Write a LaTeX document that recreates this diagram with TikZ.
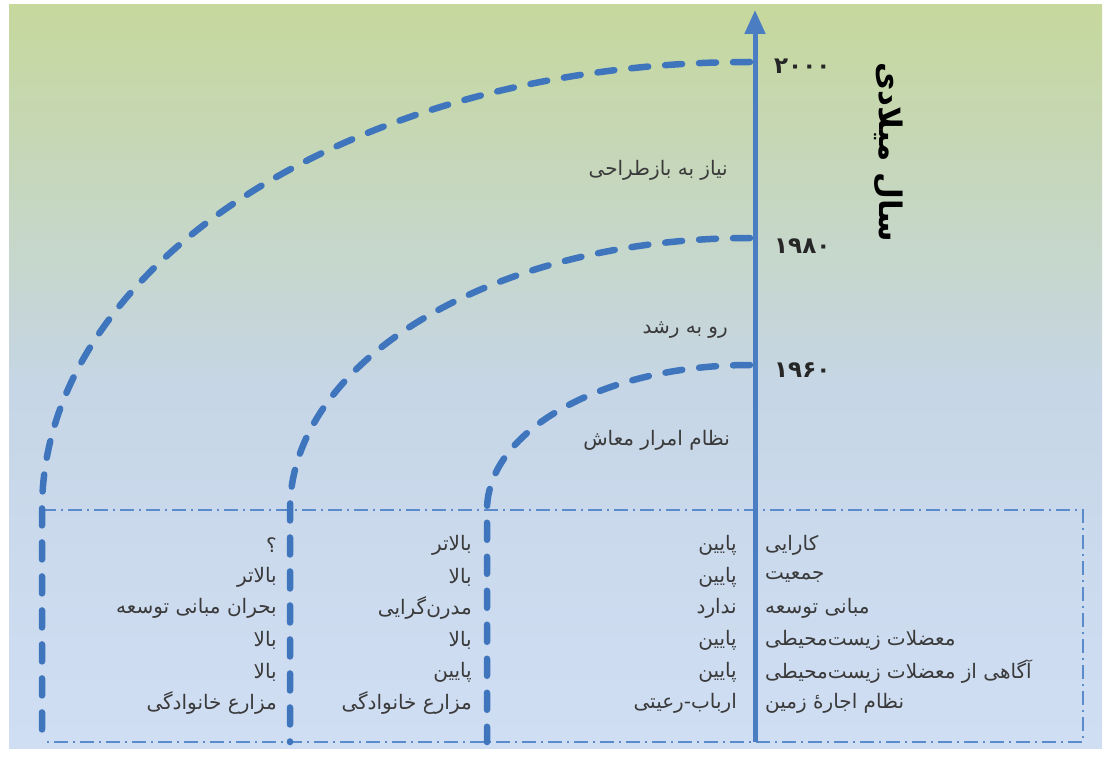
\documentclass[tikz,border=0pt]{standalone}
\usepackage{fontspec}
\usetikzlibrary{arrows.meta}
\newfontfamily\arabicfont[Script=Arabic]{DejaVu Sans}
\TeXXeTstate=1
\definecolor{axisblue}{HTML}{4A7DC2}
\definecolor{arcblue}{HTML}{3F75BD}
\definecolor{gridblue}{HTML}{5A8BCB}
\definecolor{txtgray}{HTML}{3A3A3A}
\definecolor{bgtop}{HTML}{C6D89C}
\definecolor{bgmid}{HTML}{C6D6E6}
\definecolor{bgbot}{HTML}{D0DEF4}
\tikzset{
  arcline/.style={draw=arcblue, line width=6.5pt, line cap=round, dash pattern=on 17pt off 17pt},
  gridline/.style={draw=gridblue, line width=1.3pt, dash pattern=on 14pt off 5pt on 2pt off 5pt},
  axisline/.style={draw=axisblue, line width=5pt, -{Triangle[length=24pt,width=20pt]}},
  cell/.style={inner sep=0pt, text=txtgray, font=\arabicfont\fontsize{20}{22}\selectfont},
  phase/.style={inner sep=0pt, anchor=east, text=txtgray, font=\arabicfont\fontsize{20}{22}\selectfont},
  year/.style={inner sep=0pt, anchor=west, text=black!85, font=\arabicfont\bfseries\fontsize{23}{25}\selectfont},
}
\begin{document}
\begin{tikzpicture}[x=1pt,y=-1pt]
			\useasboundingbox (0,0) rectangle (1110,762);
			\fill [top color=bgtop, bottom color=bgmid] (9,5) rectangle (1102,390);
			\fill [top color=bgmid, bottom color=bgbot] (9,389) rectangle (1102,748);
			\coordinate (tl) at (42,510);
			\coordinate (tr) at (1083,510);
			\coordinate (br) at (1083,742);
			\coordinate (bl) at (42,742);
			\draw [gridline] (tl) -- (tr) -- (br) -- (bl);
			\coordinate (t2000) at (750,62);
			\coordinate (t1980) at (750,238);
			\coordinate (t1960) at (750,365);
			\coordinate (b2000) at (42,742);
			\coordinate (b1980) at (290,742);
			\coordinate (b1960) at (487,742);
			\draw [arcline] (t2000) arc [start angle=-90, end angle=-180, x radius=708, y radius=448] -- (b2000);
			\draw [arcline] (t1980) arc [start angle=-90, end angle=-180, x radius=460, y radius=272] -- (b1980);
			\draw [arcline] (t1960) arc [start angle=-90, end angle=-180, x radius=263, y radius=145] -- (b1960);
			\coordinate (axbot) at (755,742);
			\coordinate (axtop) at (755,10);
			\draw [axisline] (axbot) -- (axtop);
			\node [year] (y2000) at (774,66) {۲۰۰۰};
			\node [year] (y1980) at (774,246) {۱۹۸۰};
			\node [year] (y1960) at (774,370) {۱۹۶۰};
			\node [rotate=-90, inner sep=0pt, font=\arabicfont\bfseries\fontsize{31}{33}\selectfont] (title) at (888,152) {\beginR سال میلادی\endR};
			\node [phase] (p3) at (728,170) {\beginR نیاز به بازطراحی\endR};
			\node [phase] (p2) at (728,330) {\beginR رو به رشد\endR};
			\node [phase] (p1) at (730,440) {\beginR نظام امرار معاش\endR};
			\node [cell, anchor=west] (h1) at (765,545) {\beginR کارایی\endR};
			\node [cell, anchor=west] (h2) at (765,577) {\beginR جمعیت\endR};
			\node [cell, anchor=west] (h3) at (765,608) {\beginR مبانی توسعه\endR};
			\node [cell, anchor=west] (h4) at (765,640) {\beginR معضلات زیست^^^^200cمحیطی\endR};
			\node [cell, anchor=west] (h5) at (765,672) {\beginR آگاهی از معضلات زیست^^^^200cمحیطی\endR};
			\node [cell, anchor=west] (h6) at (765,703) {\beginR نظام اجاره^^^^0654 زمین\endR};
			\node [cell, anchor=east] (a1) at (737,545) {\beginR پایین\endR};
			\node [cell, anchor=east] (a2) at (737,577) {\beginR پایین\endR};
			\node [cell, anchor=east] (a3) at (737,608) {\beginR ندارد\endR};
			\node [cell, anchor=east] (a4) at (737,640) {\beginR پایین\endR};
			\node [cell, anchor=east] (a5) at (737,672) {\beginR پایین\endR};
			\node [cell, anchor=east] (a6) at (737,703) {\beginR ارباب-رعیتی\endR};
			\node [cell, anchor=east] (b1) at (472,545) {\beginR بالاتر\endR};
			\node [cell, anchor=east] (b2) at (472,577) {\beginR بالا\endR};
			\node [cell, anchor=east] (b3) at (472,608) {\beginR مدرن^^^^200cگرایی\endR};
			\node [cell, anchor=east] (b4) at (472,640) {\beginR بالا\endR};
			\node [cell, anchor=east] (b5) at (472,672) {\beginR پایین\endR};
			\node [cell, anchor=east] (b6) at (472,703) {\beginR مزارع خانوادگی\endR};
			\node [cell, anchor=east] (c1) at (277,545) {\beginR ؟\endR};
			\node [cell, anchor=east] (c2) at (277,577) {\beginR بالاتر\endR};
			\node [cell, anchor=east] (c3) at (277,608) {\beginR بحران مبانی توسعه\endR};
			\node [cell, anchor=east] (c4) at (277,640) {\beginR بالا\endR};
			\node [cell, anchor=east] (c5) at (277,672) {\beginR بالا\endR};
			\node [cell, anchor=east] (c6) at (277,703) {\beginR مزارع خانوادگی\endR};
		\end{tikzpicture}
\end{document}
